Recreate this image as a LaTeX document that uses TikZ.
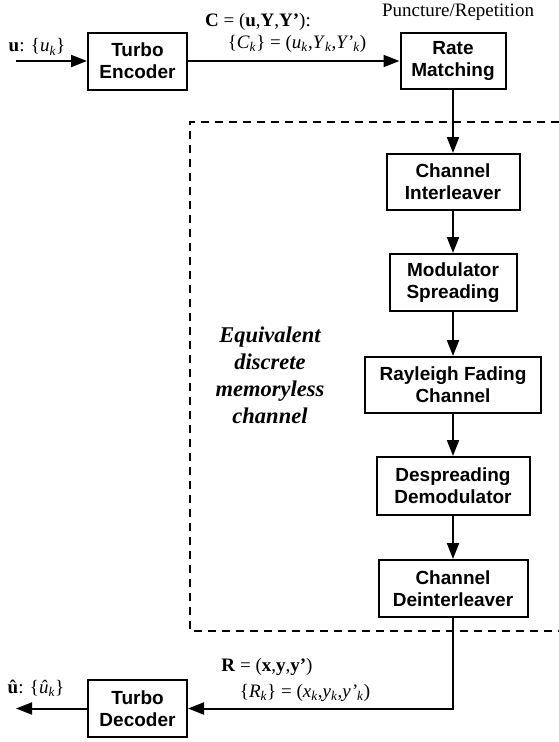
\documentclass[tikz,border=0pt]{standalone}
\usepackage{fontspec}
\setmainfont{Liberation Serif}
\setsansfont{Liberation Sans}
\usetikzlibrary{arrows.meta, positioning}
\newcommand{\ksub}[1]{\textit{#1}\textsubscript{\textit{k}}}

\begin{document}
\begin{tikzpicture}[
  x=1pt, y=-1pt,
  every node/.style={font=\fontsize{19}{22}\selectfont},
  block/.style={rectangle, draw, line width=2pt, minimum height=56pt, align=center, inner sep=2pt, font=\fontsize{19}{22}\selectfont\sffamily\bfseries},
  flow/.style={line width=2pt, -{Triangle[length=16pt, width=12pt]}},
  lbl/.style={inner sep=0pt, font=\fontsize{19}{22}\selectfont},
]
\useasboundingbox (0,0) rectangle (559,742);

% Transmitter
\node[block, minimum width=99pt, minimum height=57pt] (enc) at (137.5,61) {Turbo\\Encoder};
\node[block, minimum width=105pt] (rm) at (453,61) {Rate\\Matching};
\node[lbl] (punc) at (458,12) {Puncture/Repetition};

% Channel chain
\node[block, minimum width=133pt, below=63pt of rm] (ilv) {Channel\\Interleaver};
\node[block, minimum width=127pt, minimum height=57pt, below=42pt of ilv] (mod) {Modulator\\Spreading};
\node[block, minimum width=176pt, below=44pt of mod] (ray) {Rayleigh Fading\\Channel};
\node[block, minimum width=153pt, minimum height=58pt, below=42pt of ray] (desp) {Despreading\\Demodulator};
\node[block, minimum width=149pt, minimum height=57pt, below=43pt of desp] (dil) {Channel\\Deinterleaver};

% Receiver
\node[block, minimum width=99pt, minimum height=57pt] (dec) at (137.5,708.5) {Turbo\\Decoder};

% Equivalent channel
\draw[line width=2pt, dash pattern=on 8pt off 6pt] (559,122) -| (190,631) -- (559,631);
\node[lbl, align=center, font=\fontsize{22.5}{27}\selectfont\bfseries\itshape] (eq) at (270,375) {Equivalent\\discrete\\memoryless\\channel};

% Connectors
\coordinate (in) at (16,61);
\coordinate (out) at (16,708.5);
\draw[flow] (in) -- (enc);
\draw[flow] (enc) -- (rm);
\draw[flow] (rm) -- (ilv);
\draw[flow] (ilv) -- (mod);
\draw[flow] (mod) -- (ray);
\draw[flow] (ray) -- (desp);
\draw[flow] (desp) -- (dil);
\draw[flow] (dil) |- (dec);
\draw[flow] (dec) -- (out);

% Labels
\node[lbl] (ulbl) at (37,47) {\textbf{u}: \{\ksub{u}\}};
\node[lbl] (clbl) at (258,22) {\textbf{C} = (\textbf{u},\textbf{Y},\textbf{Y’}):};
\node[lbl] (cklbl) at (297,44) {\{\ksub{C}\} = (\ksub{u},\ksub{Y},\ksub{Y’})};
\node[lbl] (rlbl) at (267,667) {\textbf{R} = (\textbf{x},\textbf{y},\textbf{y’})};
\node[lbl] (rklbl) at (305,693) {\{\ksub{R}\} = (\ksub{x},\ksub{y},\ksub{y’})};
\node[lbl] (uhat) at (36,688) {\textbf{û}: \{\ksub{û}\}};

\end{tikzpicture}
\end{document}
